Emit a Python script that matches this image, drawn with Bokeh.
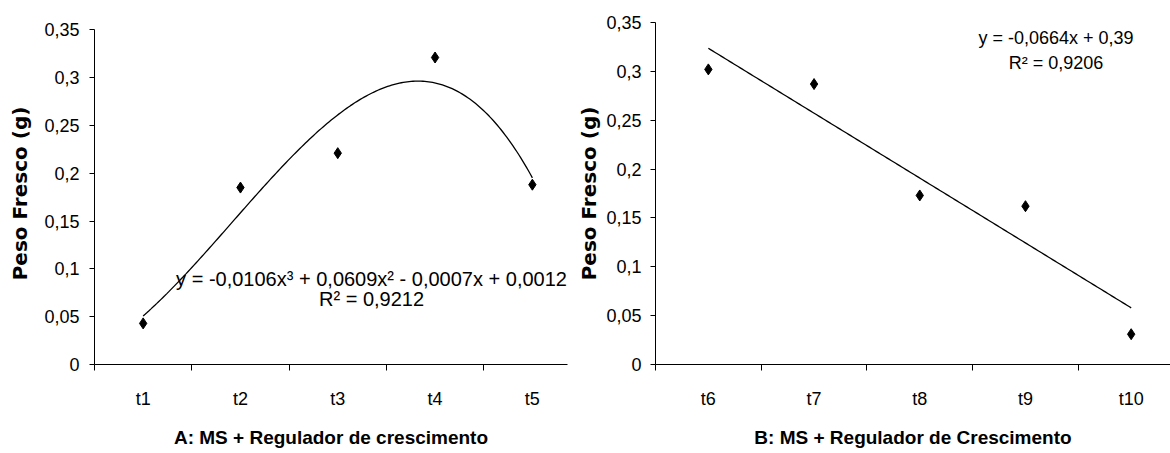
import numpy as np
from bokeh.plotting import figure
from bokeh.layouts import row
from bokeh.models import Range1d, FixedTicker, Label, ColumnDataSource
from bokeh.embed import file_html
from bokeh.resources import INLINE

# ---- data ----
cats_a = ["t1", "t2", "t3", "t4", "t5"]
vals_a = [0.043, 0.185, 0.221, 0.321, 0.188]
cats_b = ["t6", "t7", "t8", "t9", "t10"]
vals_b = [0.302, 0.287, 0.173, 0.162, 0.031]

poly_a = [-0.0106, 0.0609, -0.0007, 0.0012]   # printed cubic trendline
lin_b = [-0.0664, 0.39]                         # printed linear trendline

eq_a = ["y = -0,0106x³ + 0,0609x² - 0,0007x + 0,0012", "R² = 0,9212"]
eq_b = ["y = -0,0664x + 0,39", "R² = 0,9206"]

y_ticks = [0, 0.05, 0.1, 0.15, 0.2, 0.25, 0.3, 0.35]
y_tick_labels = ["0", "0,05", "0,1", "0,15", "0,2", "0,25", "0,3", "0,35"]
y_title = "Peso Fresco (g)"
x_title_a = "A: MS + Regulador de crescimento"
x_title_b = "B: MS + Regulador de Crescimento"

TICK_FONT = "Liberation Sans"
FIG_H = 450


def panel(cats, vals, coeffs, eq, eq_x, eq_y, eq_size, x_title, width,
          b_left, b_right, x_end, y_end, y_std, ylab_std):
    p = figure(width=width, height=FIG_H, output_backend="svg",
               toolbar_location=None, tools="",
               x_range=Range1d(0.5, x_end), y_range=Range1d(0, y_end),
               min_border_left=b_left, min_border_right=b_right,
               min_border_top=22, min_border_bottom=86)
    p.outline_line_color = None
    p.xgrid.visible = False
    p.ygrid.visible = False
    p.background_fill_color = "white"
    p.border_fill_color = "white"

    n = len(cats)
    xs = list(range(1, n + 1))
    # trendline from printed equation
    tx = np.linspace(1, n, 200)
    ty = np.polyval(coeffs, tx)
    p.line(tx, ty, line_color="black", line_width=1.3)
    src = ColumnDataSource(dict(x=xs, y=vals))
    p.scatter("x", "y", source=src, marker="diamond", size=11,
              fill_color="black", line_color="black")

    # x axis: labels at centers, ticks between categories
    xa = p.xaxis[0]
    xa.ticker = FixedTicker(ticks=xs, minor_ticks=[i + 0.5 for i in range(0, n + 1)])
    xa.major_label_overrides = {x: c for x, c in zip(xs, cats)}
    xa.major_tick_out = 0
    xa.major_tick_in = 0
    xa.minor_tick_out = 6
    xa.minor_tick_in = 0
    xa.minor_tick_line_color = "black"
    xa.axis_line_color = "black"
    xa.major_label_text_font = TICK_FONT
    xa.major_label_text_font_size = "18px"
    xa.major_label_text_color = "black"
    xa.major_label_standoff = 18
    xa.axis_label = x_title
    xa.axis_label_text_font = TICK_FONT
    xa.axis_label_text_font_style = "bold"
    xa.axis_label_text_font_size = "19px"
    xa.axis_label_text_color = "black"
    xa.axis_label_standoff = 15

    ya = p.yaxis[0]
    ya.ticker = FixedTicker(ticks=y_ticks, minor_ticks=[])
    ya.bounds = (y_ticks[0], y_ticks[-1])
    ya.major_label_overrides = {t: l for t, l in zip(y_ticks, y_tick_labels)}
    ya.major_tick_out = 5
    ya.major_tick_in = 0
    ya.minor_tick_out = 0
    ya.minor_tick_in = 0
    ya.major_tick_line_color = "black"
    ya.axis_line_color = "black"
    ya.major_label_text_font = TICK_FONT
    ya.major_label_text_font_size = "18px"
    ya.major_label_text_color = "black"
    ya.major_label_standoff = y_std
    ya.axis_label = y_title
    ya.axis_label_text_font = "DejaVu Sans"
    ya.axis_label_text_font_style = "bold"
    ya.axis_label_text_font_size = "20px"
    ya.axis_label_text_color = "black"
    ya.axis_label_standoff = ylab_std

    for txt, yy in zip(eq, eq_y):
        p.add_layout(Label(x=eq_x, y=yy, text=txt, text_align="center",
                           text_baseline="middle", text_font=TICK_FONT,
                           text_font_size=eq_size, text_color="black"))
    return p


p1 = panel(cats_a, vals_a, poly_a, eq_a, 3.347, [0.089, 0.068], "20px",
           x_title_a, 573, 94, 6, 5.361, 0.3576, 10, 9)
p2 = panel(cats_b, vals_b, lin_b, eq_b, 4.289, [0.334, 0.309], "18px",
           x_title_b, 597, 82, 0, 5.372, 0.35, 9, 2)

layout = row(p1, p2)
open("out.html", "w").write(file_html(layout, INLINE))
